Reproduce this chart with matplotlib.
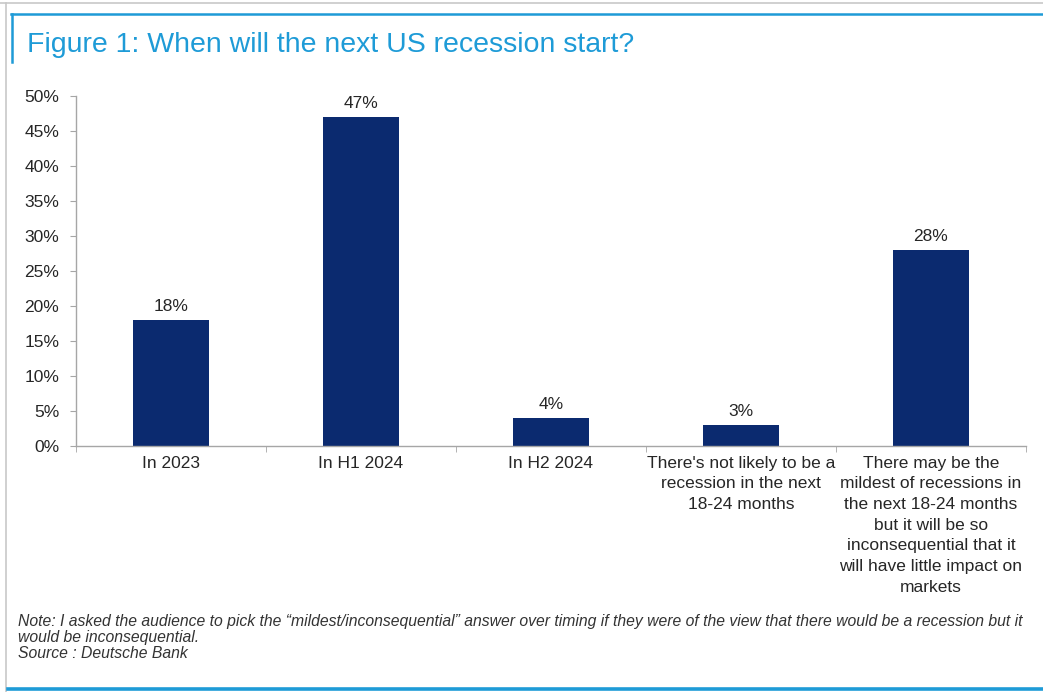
import matplotlib
matplotlib.use("Agg")
import matplotlib.pyplot as plt
from matplotlib.lines import Line2D
from matplotlib.ticker import FixedLocator, PercentFormatter

# survey answers
categories = [
    "In 2023",
    "In H1 2024",
    "In H2 2024",
    "There's not likely to be a\nrecession in the next\n18-24 months",
    "There may be the\nmildest of recessions in\nthe next 18-24 months\nbut it will be so\ninconsequential that it\nwill have little impact on\nmarkets",
]
shares = [18, 47, 4, 3, 28]
yticks = [0, 5, 10, 15, 20, 25, 30, 35, 40, 45, 50]

title = "Figure 1: When will the next US recession start?"
note = ("Note: I asked the audience to pick the \u201cmildest/inconsequential\u201d answer over timing "
        "if they were of the view that there would be a recession but it\nwould be inconsequential.\n"
        "Source : Deutsche Bank")

navy = "#0b2a6f"
blue = "#1e9bd7"
grey = "#a6a6a6"
txt = "#262626"

plt.rcParams["font.family"] = ["Liberation Sans", "DejaVu Sans"]

fig = plt.figure(figsize=(10.43, 6.92), dpi=100)
W, H = 1043, 692

def fx(px):
    return px / W

def fy(py):
    return 1 - py / H

# frame lines
fig.add_artist(Line2D([0, 1], [fy(3), fy(3)], color="#c8c8c8", lw=1.2))
fig.add_artist(Line2D([fx(6), fx(6)], [fy(3), fy(692)], color="#c8c8c8", lw=1.2))
fig.add_artist(Line2D([fx(11), 1], [fy(14), fy(14)], color=blue, lw=1.8))
fig.add_artist(Line2D([fx(12), fx(12)], [fy(14), fy(62)], color=blue, lw=1.8))
fig.add_artist(Line2D([fx(8), 1], [fy(689), fy(689)], color=blue, lw=2.6))

fig.text(fx(27), fy(45), title, color=blue, fontsize=20.5, va="center", ha="left")

ax = fig.add_axes([fx(76), fy(446), fx(1026) - fx(76), fy(96) - fy(446)])
x = range(len(categories))
bars = ax.bar(x, shares, width=0.395, color=navy)
for b, v in zip(bars, shares):
    ax.text(b.get_x() + b.get_width() / 2, v + 0.8, f"{v}%", ha="center", va="bottom",
            fontsize=12.5, color=txt)

ax.set_xlim(-0.5, len(categories) - 0.5)
ax.set_ylim(0, 50)
ax.set_yticks(yticks)
ax.yaxis.set_major_formatter(PercentFormatter(decimals=0))
ax.set_xticks(list(x))
ax.set_xticklabels(categories, fontsize=12.5, color=txt, linespacing=1.47)
ax.xaxis.set_minor_locator(FixedLocator([i + 0.5 for i in range(-1, len(categories))]))
ax.tick_params(axis="x", which="major", length=0, pad=7)
ax.tick_params(axis="x", which="minor", length=4, color=grey, direction="out")
ax.tick_params(axis="y", length=4, color=grey, labelsize=12.5, labelcolor=txt, pad=8)

for s in ["top", "right"]:
    ax.spines[s].set_visible(False)
for s in ["left", "bottom"]:
    ax.spines[s].set_color(grey)
    ax.spines[s].set_linewidth(1.0)

fig.text(fx(18), fy(614), note, fontsize=11.3, style="italic", color="#333333",
         va="top", ha="left", linespacing=1.08)

fig.savefig("out.png", dpi=100)
